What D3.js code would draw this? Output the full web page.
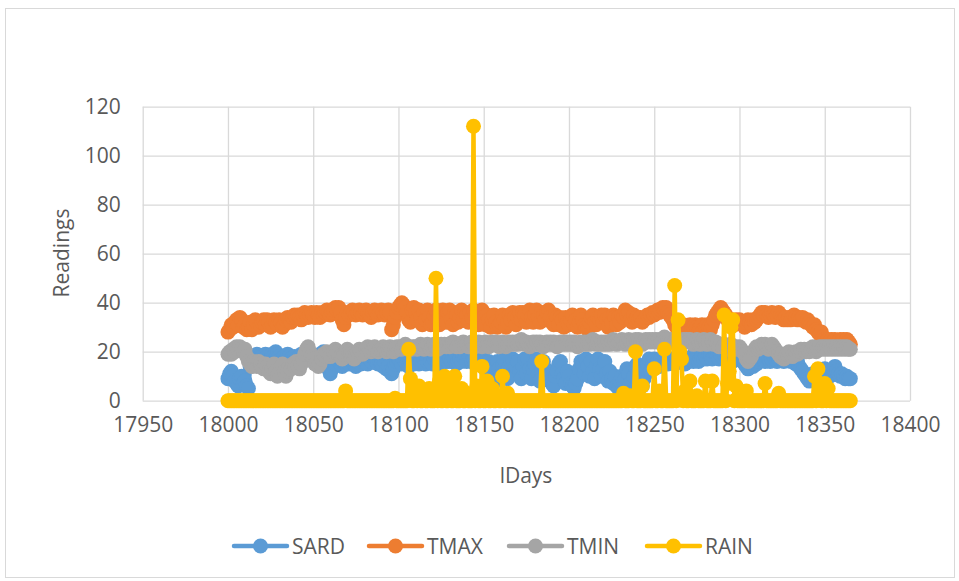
<!DOCTYPE html>
<html>
<head>
<meta charset="utf-8">
<script src="https://cdn.jsdelivr.net/npm/d3@7"></script>
<style>
  html, body { margin: 0; padding: 0; background: #fff; }
  svg { display: block; }
  text { font-family: "Open Sans", "Liberation Sans", sans-serif; fill: #595959; }
</style>
</head>
<body>
<svg id="chart" width="959" height="581"></svg>
<script>
// ---------------- DATA ----------------
const dayStart = 18000;           // first day of the series (one reading per day)
const xTicks = [17950, 18000, 18050, 18100, 18150, 18200, 18250, 18300, 18350, 18400];
const yTicks = [0, 20, 40, 60, 80, 100, 120];
const seriesNames = ["SARD", "TMAX", "TMIN", "RAIN"];

const SARD = [
  9,11,12,10,8,7,6,9,10,7,
  8,6,5,14,17,18,16,19,17,18,
  18,17,19,18,16,17,19,18,20,19,
  18,17,16,18,17,19,18,17,16,18,
  17,16,18,19,17,18,20,19,17,18,
  16,17,15,17,19,18,20,19,17,13,
  11,13,16,15,17,16,15,14,16,15,
  16,15,17,16,15,14,16,17,15,16,
  17,16,15,17,16,18,17,16,15,16,
  15,14,16,13,14,12,11,13,15,16,
  17,16,15,17,16,15,14,16,17,15,
  16,17,15,16,18,17,15,16,17,16,
  15,17,18,16,17,15,16,17,18,16,
  17,16,18,17,15,16,17,16,18,17,
  16,17,18,16,17,15,16,17,18,16,
  17,13,11,16,9,12,14,8,16,13,
  10,14,17,12,9,14,16,17,11,14,
  16,12,9,14,17,11,17,13,9,13,
  15,17,11,8,12,16,13,9,12,8,
  7,6,10,12,15,16,11,9,7,12,
  10,7,6,5,7,9,13,16,15,11,
  17,14,10,16,12,9,14,17,13,10,
  13,16,11,8,12,9,7,10,6,5,
  8,10,6,9,13,11,7,6,10,14,
  15,10,7,6,9,13,15,17,12,16,
  17,15,16,14,17,16,18,17,15,16,
  17,16,15,17,16,18,17,16,15,17,
  16,17,18,16,17,18,16,17,18,17,
  18,17,19,18,17,18,19,18,17,19,
  18,19,20,18,19,17,16,18,19,17,
  18,17,16,15,14,13,14,15,14,16,
  15,16,17,18,17,16,18,17,16,17,
  18,17,16,17,18,17,16,17,18,17,
  16,17,16,15,16,14,13,12,11,10,
  9,8,10,11,9,8,7,9,10,12,
  13,12,11,10,12,13,14,12,11,10,
  11,10,9,10,9,9
];

const TMAX = [
  28,29,31,30,32,33,31,34,33,30,
  31,29,30,32,29,31,33,32,30,31,
  32,33,31,33,32,30,31,33,32,31,
  33,32,30,31,33,34,33,32,34,35,
  34,35,34,33,35,36,35,34,35,36,
  35,34,36,35,34,36,35,36,37,36,
  35,36,37,38,37,38,36,33,31,34,
  36,35,36,37,36,35,36,37,36,35,
  36,37,36,35,34,36,37,36,35,36,
  37,36,35,36,37,36,29,31,34,36,
  38,39,40,39,38,36,33,32,37,38,
  36,33,37,34,31,36,33,37,34,31,
  32,35,37,33,31,34,37,34,32,36,
  37,33,31,36,35,32,34,37,33,36,
  35,32,36,34,37,35,32,31,35,37,
  34,31,35,33,30,33,35,32,30,31,
  32,35,33,30,32,35,33,36,34,31,
  34,36,33,36,35,32,35,37,34,32,
  35,37,34,32,36,35,33,36,37,34,
  32,31,35,34,31,34,33,30,34,32,
  31,33,35,31,33,30,32,35,33,31,
  30,29,32,34,35,32,31,34,33,35,
  32,35,33,30,34,32,35,34,31,34,
  32,35,34,37,35,36,33,32,35,33,
  34,33,34,32,33,34,35,34,35,36,
  35,36,37,36,37,38,37,38,36,35,
  34,33,31,30,31,29,30,31,30,29,
  30,31,29,30,31,30,29,30,31,29,
  30,31,30,29,31,33,35,36,37,38,
  37,36,35,33,32,33,32,31,33,32,
  33,32,31,30,32,33,32,31,33,32,
  33,34,35,36,35,36,35,34,35,36,
  35,34,35,36,35,34,33,34,33,34,
  33,34,35,34,33,34,33,34,33,32,
  33,32,31,30,31,29,28,27,28,26,
  25,24,25,24,25,24,25,24,24,25,
  24,25,24,25,24,23
];

const TMIN = [
  19,20,19,21,20,22,21,22,21,20,
  21,18,16,15,14,16,15,14,16,15,
  14,13,15,14,12,11,13,15,12,10,
  11,13,15,12,10,12,14,13,15,14,
  16,14,13,15,17,19,21,22,20,18,
  17,15,16,14,15,17,19,18,20,19,
  18,19,20,21,20,19,18,17,19,20,
  21,20,19,18,17,18,20,21,20,19,
  20,21,22,21,20,21,22,21,20,21,
  21,22,21,20,21,22,21,20,21,22,
  21,22,21,22,23,22,21,22,21,22,
  22,21,22,23,22,21,22,23,22,21,
  22,23,22,21,22,23,22,23,22,23,
  22,23,24,23,22,23,22,23,24,23,
  23,22,23,24,23,22,23,24,23,22,
  23,24,23,22,23,24,23,24,23,22,
  23,24,23,22,23,24,23,24,23,24,
  23,24,25,24,23,24,23,22,23,24,
  23,24,23,24,23,22,23,24,23,24,
  23,24,23,22,23,24,23,24,23,24,
  23,24,23,24,23,22,23,24,23,24,
  23,24,23,24,25,24,23,24,23,24,
  23,24,23,24,23,24,25,24,23,24,
  24,25,24,23,24,25,24,23,24,25,
  24,25,24,23,24,25,24,25,24,25,
  24,25,24,25,24,25,26,25,24,25,
  24,25,24,25,24,23,24,25,24,25,
  24,25,24,23,24,25,24,23,24,25,
  24,23,24,25,24,23,24,23,22,23,
  22,23,22,21,22,23,22,21,22,21,
  22,21,20,19,17,16,17,18,20,21,
  22,21,22,23,22,23,22,21,22,23,
  22,21,20,19,18,19,17,18,19,20,
  19,18,19,20,19,20,21,20,21,20,
  21,20,21,22,21,20,21,22,21,22,
  21,22,21,22,21,22,21,22,21,22,
  21,22,21,22,21,21
];

const RAIN = [
  0,0,0,0,0,0,0,0,0,0,
  0,0,0,0,0,0,0,0,0,0,
  0,0,0,0,0,0,0,0,0,0,
  0,0,0,0,0,0,0,0,0,0,
  0,0,0,0,0,0,0,0,0,0,
  0,0,0,0,0,0,0,0,0,0,
  0,0,0,0,0,0,0,0,0,4,
  0,0,0,0,0,0,0,0,0,0,
  0,0,0,0,0,0,0,0,0,0,
  0,0,0,0,0,0,0,0,1,0,
  0,0,0,0,0,0,21,9,0,0,
  5,0,6,0,0,2,0,0,5,0,
  0,0,50,0,8,0,0,10,0,0,
  6,0,0,10,0,0,0,5,0,0,
  3,0,0,0,112,0,6,0,0,14,
  0,0,8,0,0,5,0,0,2,0,
  0,10,0,0,3,0,0,0,0,0,
  0,0,0,0,0,0,0,0,0,0,
  0,0,0,0,16,0,0,0,0,0,
  0,0,0,0,0,0,0,0,0,0,
  0,0,0,0,0,0,0,0,0,0,
  0,0,0,0,0,0,0,0,0,0,
  0,0,0,0,0,0,0,0,0,0,
  0,0,3,0,0,0,2,0,0,20,
  0,0,0,6,0,0,0,0,0,0,
  13,0,0,4,0,0,21,0,0,0,
  0,0,47,0,33,20,17,0,4,0,
  0,8,0,0,0,2,0,0,0,0,
  8,0,0,0,8,0,0,0,0,0,
  0,35,0,7,12,30,33,0,6,0,
  0,0,0,0,4,0,0,0,0,0,
  0,0,0,0,0,7,0,0,0,0,
  0,0,0,3,0,0,0,0,0,0,
  0,0,0,0,0,0,0,0,0,0,
  0,0,0,0,10,0,13,6,0,0,
  7,0,5,0,0,0,0,0,0,0,
  0,0,0,0,0,0
];

const seriesValues = [SARD, TMAX, TMIN, RAIN];
const seriesColors = ["#5B9BD5", "#ED7D31", "#A5A5A5", "#FFC000"];

// ---------------- LAYOUT ----------------
const svg = d3.select("#chart");
const plot = { left: 142.7, right: 910, top: 106.7, bottom: 400.7 };
const x = d3.scaleLinear().domain([17950, 18400]).range([plot.left, plot.right]);
const y = d3.scaleLinear().domain([0, 120]).range([plot.bottom, plot.top]);
const gridColor = "#d9d9d9";
const fontSize = 21;

// chart border
svg.append("rect")
  .attr("x", 5.5).attr("y", 8.5).attr("width", 949).attr("height", 569)
  .attr("fill", "#fff").attr("stroke", "#d9d9d9").attr("stroke-width", 1);

// horizontal gridlines + y labels
const yAxis = d3.axisLeft(y).tickValues(yTicks).tickSize(-(plot.right - plot.left)).tickPadding(22);
const gy = svg.append("g").attr("transform", `translate(${plot.left},0)`).call(yAxis);
gy.select(".domain").remove();
gy.selectAll(".tick line").attr("stroke", gridColor).attr("stroke-width", 1.3);
gy.selectAll(".tick text").attr("font-size", fontSize).attr("fill", "#595959")
  .style("font-family", '"Open Sans", "Liberation Sans", sans-serif');

// vertical gridlines + x labels
const xAxis = d3.axisBottom(x).tickValues(xTicks).tickFormat(d3.format("d"))
  .tickSize(-(plot.bottom - plot.top)).tickPadding(16);
const gx = svg.append("g").attr("transform", `translate(0,${plot.bottom})`).call(xAxis);
gx.select(".domain").remove();
gx.selectAll(".tick line").attr("stroke", gridColor).attr("stroke-width", 1.3);
gx.selectAll(".tick text").attr("font-size", fontSize).attr("fill", "#595959")
  .style("font-family", '"Open Sans", "Liberation Sans", sans-serif');

// axis titles
svg.append("text").attr("x", 526).attr("y", 483).attr("text-anchor", "middle")
  .attr("font-size", fontSize).text("lDays");
svg.append("text").attr("transform", "translate(69,253) rotate(-90)").attr("text-anchor", "middle")
  .attr("font-size", fontSize).text("Readings");

// series
const line = d3.line().x((d, i) => x(dayStart + i)).y(d => y(d));
const markerR = 7.5;
seriesValues.forEach((vals, si) => {
  const g = svg.append("g");
  g.append("path").datum(vals).attr("d", line)
    .attr("fill", "none").attr("stroke", seriesColors[si]).attr("stroke-width", 4.5)
    .attr("stroke-linejoin", "round");
  g.selectAll("circle").data(vals).join("circle")
    .attr("cx", (d, i) => x(dayStart + i)).attr("cy", d => y(d)).attr("r", markerR)
    .attr("fill", seriesColors[si]);
});

// legend
const legendX = [234, 369, 509, 647];
const legendY = 546;
seriesNames.forEach((name, i) => {
  const g = svg.append("g").attr("transform", `translate(${legendX[i]},${legendY})`);
  g.append("line").attr("x1", 0).attr("x2", 53).attr("y1", 0).attr("y2", 0)
    .attr("stroke", seriesColors[i]).attr("stroke-width", 4.5).attr("stroke-linecap", "round");
  g.append("circle").attr("cx", 26.5).attr("cy", 0).attr("r", markerR).attr("fill", seriesColors[i]);
  g.append("text").attr("x", 58).attr("y", 8).attr("font-size", fontSize).text(name);
});
</script>
</body>
</html>
